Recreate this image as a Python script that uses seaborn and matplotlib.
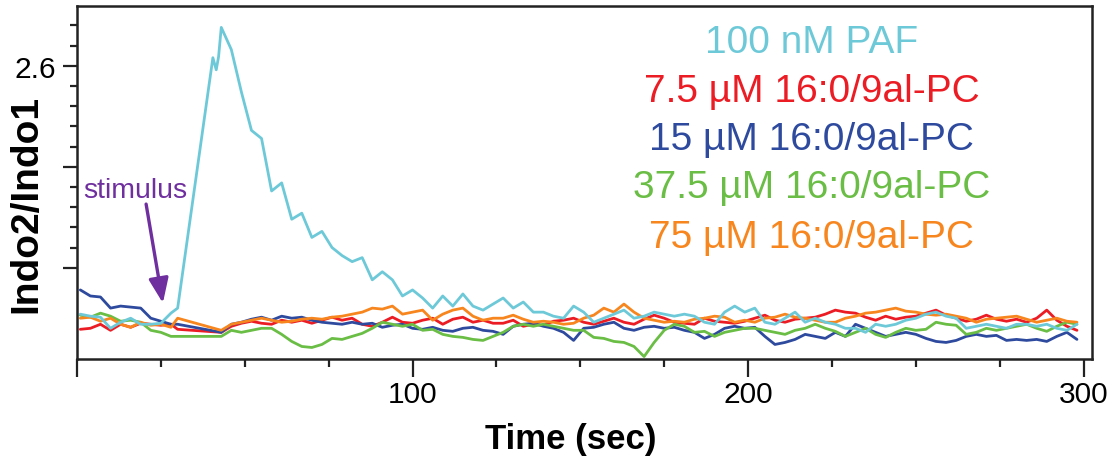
import matplotlib
matplotlib.use("Agg")
import matplotlib.pyplot as plt
from matplotlib.ticker import FixedLocator, FixedFormatter
import pandas as pd
import seaborn as sns

# sampling times (sec): before the stimulus gap and after it
TIME_PRE = [1, 4, 7, 10, 13, 16, 19, 22, 25, 28, 30]
TIME_POST = [
    43, 46, 49, 52, 55, 58, 61, 64, 67, 70,
    73, 76, 79, 82, 85, 88, 91, 94, 97, 100,
    103, 106, 109, 112, 115, 118, 121, 124, 127, 130,
    133, 136, 139, 142, 145, 148, 151, 154, 157, 160,
    163, 166, 169, 172, 175, 178, 181, 184, 187, 190,
    193, 196, 199, 202, 205, 208, 211, 214, 217, 220,
    223, 226, 229, 232, 235, 238, 241, 244, 247, 250,
    253, 256, 259, 262, 265, 268, 271, 274, 277, 280,
    283, 286, 289, 292, 295, 298,
]

# PAF has a few extra points on its rising edge
PAF_RISE_TIME = [40.5, 41.5, 42.2]
PAF_RISE = [2.64, 2.58, 2.645]

PAF_PRE = [1.37, 1.36, 1.355, 1.30, 1.33, 1.35, 1.32, 1.32, 1.325, 1.375, 1.40]
PAF_POST = [
    2.79, 2.68, 2.47, 2.28, 2.24, 1.98, 2.02, 1.84, 1.87, 1.75,
    1.78, 1.70, 1.66, 1.63, 1.65, 1.54, 1.58, 1.54, 1.46, 1.49,
    1.45, 1.40, 1.46, 1.41, 1.47, 1.41, 1.39, 1.42, 1.45, 1.40,
    1.43, 1.38, 1.38, 1.36, 1.35, 1.41, 1.38, 1.33, 1.35, 1.37,
    1.39, 1.35, 1.36, 1.38, 1.37, 1.36, 1.37, 1.36, 1.33, 1.32,
    1.38, 1.41, 1.38, 1.40, 1.33, 1.32, 1.35, 1.38, 1.33, 1.35,
    1.33, 1.32, 1.30, 1.30, 1.28, 1.32, 1.31, 1.32, 1.34, 1.35,
    1.37, 1.38, 1.36, 1.35, 1.30, 1.31, 1.32, 1.31, 1.30, 1.32,
    1.32, 1.31, 1.32, 1.30, 1.29, 1.32,
]

PC_7_5_PRE = [1.295, 1.30, 1.32, 1.29, 1.32, 1.305, 1.325, 1.32, 1.315, 1.32, 1.295]
PC_7_5_POST = [
    1.28, 1.31, 1.325, 1.335, 1.325, 1.32, 1.34, 1.33, 1.34, 1.325,
    1.34, 1.355, 1.34, 1.35, 1.32, 1.31, 1.33, 1.355, 1.33, 1.325,
    1.34, 1.35, 1.32, 1.345, 1.355, 1.33, 1.34, 1.325, 1.325, 1.34,
    1.31, 1.32, 1.315, 1.335, 1.34, 1.35, 1.33, 1.32, 1.335, 1.35,
    1.33, 1.32, 1.345, 1.365, 1.35, 1.33, 1.325, 1.32, 1.35, 1.335,
    1.33, 1.325, 1.335, 1.35, 1.365, 1.34, 1.33, 1.345, 1.35, 1.355,
    1.37, 1.39, 1.38, 1.375, 1.355, 1.34, 1.36, 1.345, 1.355, 1.36,
    1.375, 1.39, 1.365, 1.35, 1.335, 1.345, 1.365, 1.345, 1.335, 1.345,
    1.33, 1.35, 1.39, 1.34, 1.31, 1.29,
]

PC_15_PRE = [1.49, 1.46, 1.455, 1.40, 1.41, 1.405, 1.40, 1.35, 1.335, 1.32, 1.32]
PC_15_POST = [
    1.28, 1.32, 1.33, 1.345, 1.355, 1.34, 1.36, 1.35, 1.355, 1.34,
    1.33, 1.325, 1.32, 1.33, 1.32, 1.325, 1.305, 1.315, 1.32, 1.30,
    1.295, 1.305, 1.29, 1.285, 1.30, 1.305, 1.29, 1.285, 1.27, 1.31,
    1.32, 1.325, 1.31, 1.30, 1.28, 1.24, 1.30, 1.305, 1.32, 1.33,
    1.30, 1.29, 1.305, 1.31, 1.30, 1.305, 1.29, 1.28, 1.25, 1.27,
    1.30, 1.31, 1.30, 1.305, 1.26, 1.22, 1.23, 1.245, 1.27, 1.26,
    1.25, 1.28, 1.26, 1.32, 1.30, 1.28, 1.26, 1.27, 1.28, 1.27,
    1.25, 1.235, 1.23, 1.24, 1.26, 1.27, 1.26, 1.265, 1.24, 1.245,
    1.24, 1.245, 1.235, 1.26, 1.28, 1.245,
]

PC_37_5_PRE = [1.365, 1.355, 1.375, 1.36, 1.335, 1.34, 1.33, 1.29, 1.28, 1.26, 1.26]
PC_37_5_POST = [
    1.26, 1.29, 1.28, 1.29, 1.30, 1.30, 1.27, 1.235, 1.21, 1.205,
    1.22, 1.25, 1.245, 1.26, 1.275, 1.30, 1.33, 1.32, 1.31, 1.32,
    1.29, 1.295, 1.27, 1.26, 1.255, 1.245, 1.24, 1.26, 1.28, 1.31,
    1.32, 1.31, 1.32, 1.31, 1.30, 1.29, 1.29, 1.255, 1.25, 1.235,
    1.23, 1.21, 1.16, 1.23, 1.29, 1.32, 1.31, 1.28, 1.285, 1.26,
    1.28, 1.29, 1.30, 1.30, 1.29, 1.28, 1.27, 1.29, 1.30, 1.32,
    1.30, 1.285, 1.26, 1.28, 1.30, 1.27, 1.255, 1.28, 1.30, 1.29,
    1.295, 1.33, 1.32, 1.315, 1.27, 1.28, 1.30, 1.29, 1.30, 1.31,
    1.32, 1.30, 1.285, 1.31, 1.33, 1.32,
]

PC_75_PRE = [1.35, 1.355, 1.335, 1.35, 1.32, 1.305, 1.33, 1.315, 1.32, 1.305, 1.35]
PC_75_POST = [
    1.29, 1.32, 1.33, 1.34, 1.35, 1.34, 1.33, 1.335, 1.345, 1.35,
    1.345, 1.355, 1.36, 1.37, 1.38, 1.40, 1.395, 1.41, 1.37, 1.38,
    1.39, 1.34, 1.37, 1.39, 1.40, 1.36, 1.34, 1.35, 1.35, 1.365,
    1.345, 1.33, 1.335, 1.33, 1.32, 1.325, 1.35, 1.365, 1.40, 1.38,
    1.42, 1.38, 1.35, 1.34, 1.33, 1.335, 1.33, 1.345, 1.35, 1.36,
    1.355, 1.33, 1.34, 1.33, 1.35, 1.355, 1.37, 1.355, 1.35, 1.34,
    1.33, 1.33, 1.35, 1.36, 1.375, 1.38, 1.39, 1.40, 1.385, 1.38,
    1.37, 1.365, 1.37, 1.36, 1.35, 1.33, 1.345, 1.35, 1.355, 1.36,
    1.345, 1.33, 1.34, 1.35, 1.335, 1.33,
]

LABELS = [
    "100 nM PAF",
    "7.5 µM 16:0/9al-PC",
    "15 µM 16:0/9al-PC",
    "37.5 µM 16:0/9al-PC",
    "75 µM 16:0/9al-PC",
]
COLORS = ["#6DC9D8", "#EC1C24", "#2E4A9E", "#6ABD45", "#F7861F"]

X_TICKS = [0, 100, 200, 300]
X_TICK_LABELS = ["", "100", "200", "300"]
Y_TICKS = [1.6, 2.1, 2.6]
Y_TICK_LABELS = ["", "", "2.6"]


def build_frame() -> pd.DataFrame:
    series = {
        LABELS[0]: (TIME_PRE + PAF_RISE_TIME + TIME_POST, PAF_PRE + PAF_RISE + PAF_POST),
        LABELS[1]: (TIME_PRE + TIME_POST, PC_7_5_PRE + PC_7_5_POST),
        LABELS[2]: (TIME_PRE + TIME_POST, PC_15_PRE + PC_15_POST),
        LABELS[3]: (TIME_PRE + TIME_POST, PC_37_5_PRE + PC_37_5_POST),
        LABELS[4]: (TIME_PRE + TIME_POST, PC_75_PRE + PC_75_POST),
    }
    frames = []
    for name, (t, v) in series.items():
        assert len(t) == len(v), name
        frames.append(pd.DataFrame({"time": t, "ratio": v, "condition": name}))
    return pd.concat(frames, ignore_index=True)


def main() -> None:
    sns.set_style("ticks")
    plt.rcParams["font.family"] = ["Liberation Sans", "DejaVu Sans"]
    plt.rcParams["text.color"] = "black"
    plt.rcParams["axes.labelcolor"] = "black"

    df = build_frame()

    fig = plt.figure(figsize=(11.14, 4.6), dpi=100)
    ax = fig.add_axes([0.0691, 0.2174, 0.9112, 0.7674])

    draw_order = [LABELS[1], LABELS[2], LABELS[3], LABELS[4], LABELS[0]]
    sns.lineplot(
        data=df,
        x="time",
        y="ratio",
        hue="condition",
        hue_order=draw_order,
        palette=dict(zip(LABELS, COLORS)),
        estimator=None,
        linewidth=2.0,
        legend=False,
        ax=ax,
    )

    ax.set_xlim(0, 302.5)
    ax.set_ylim(1.148, 2.896)

    ax.xaxis.set_major_locator(FixedLocator(X_TICKS))
    ax.xaxis.set_major_formatter(FixedFormatter(X_TICK_LABELS))
    ax.xaxis.set_minor_locator(FixedLocator([25, 50, 75, 125, 150, 175, 225, 250, 275]))
    ax.yaxis.set_major_locator(FixedLocator(Y_TICKS))
    ax.yaxis.set_major_formatter(FixedFormatter(Y_TICK_LABELS))
    ax.yaxis.set_minor_locator(
        FixedLocator([1.7, 1.8, 1.9, 2.0, 2.2, 2.3, 2.4, 2.5, 2.7, 2.8])
    )

    ax.tick_params(axis="both", which="major", direction="out", width=1.6,
                   color="#222222", labelsize=21.5, labelcolor="black")
    ax.tick_params(axis="x", which="major", length=13, pad=2)
    ax.tick_params(axis="y", which="major", length=10, pad=5)
    ax.tick_params(axis="x", which="minor", direction="out", length=6, width=1.6, color="#222222")
    ax.tick_params(axis="y", which="minor", direction="out", length=5, width=1.6, color="#222222")

    for side in ["left", "right", "top", "bottom"]:
        ax.spines[side].set_visible(True)
        ax.spines[side].set_linewidth(1.8)
        ax.spines[side].set_color("#222222")

    ax.set_xlabel("Time (sec)", fontsize=25, fontweight="bold", color="black")
    ax.xaxis.set_label_coords(0.486, -0.178)
    ax.set_ylabel("Indo2/Indo1", fontsize=28, fontweight="bold", color="black")
    ax.yaxis.set_label_coords(-0.032, 0.442)

    # coloured text legend
    baselines = [0.870, 0.731, 0.595, 0.459, 0.317]
    for label, color, yb in zip(LABELS, COLORS, baselines):
        ax.text(0.724, yb, label, color=color, fontsize=28,
                ha="center", va="baseline", transform=ax.transAxes)

    purple = "#6F2F9F"
    ax.text(1.8, 1.95, "stimulus", color=purple, fontsize=20.5, va="baseline")
    ax.annotate(
        "",
        xy=(25.6, 1.425),
        xytext=(20.6, 1.915),
        arrowprops=dict(
            arrowstyle="-|>,head_length=0.75,head_width=0.3",
            color=purple,
            lw=2.4,
            shrinkA=0,
            shrinkB=0,
            mutation_scale=20,
        ),
    )

    fig.savefig("out.png", dpi=100)
    plt.close(fig)


if __name__ == "__main__":
    main()
